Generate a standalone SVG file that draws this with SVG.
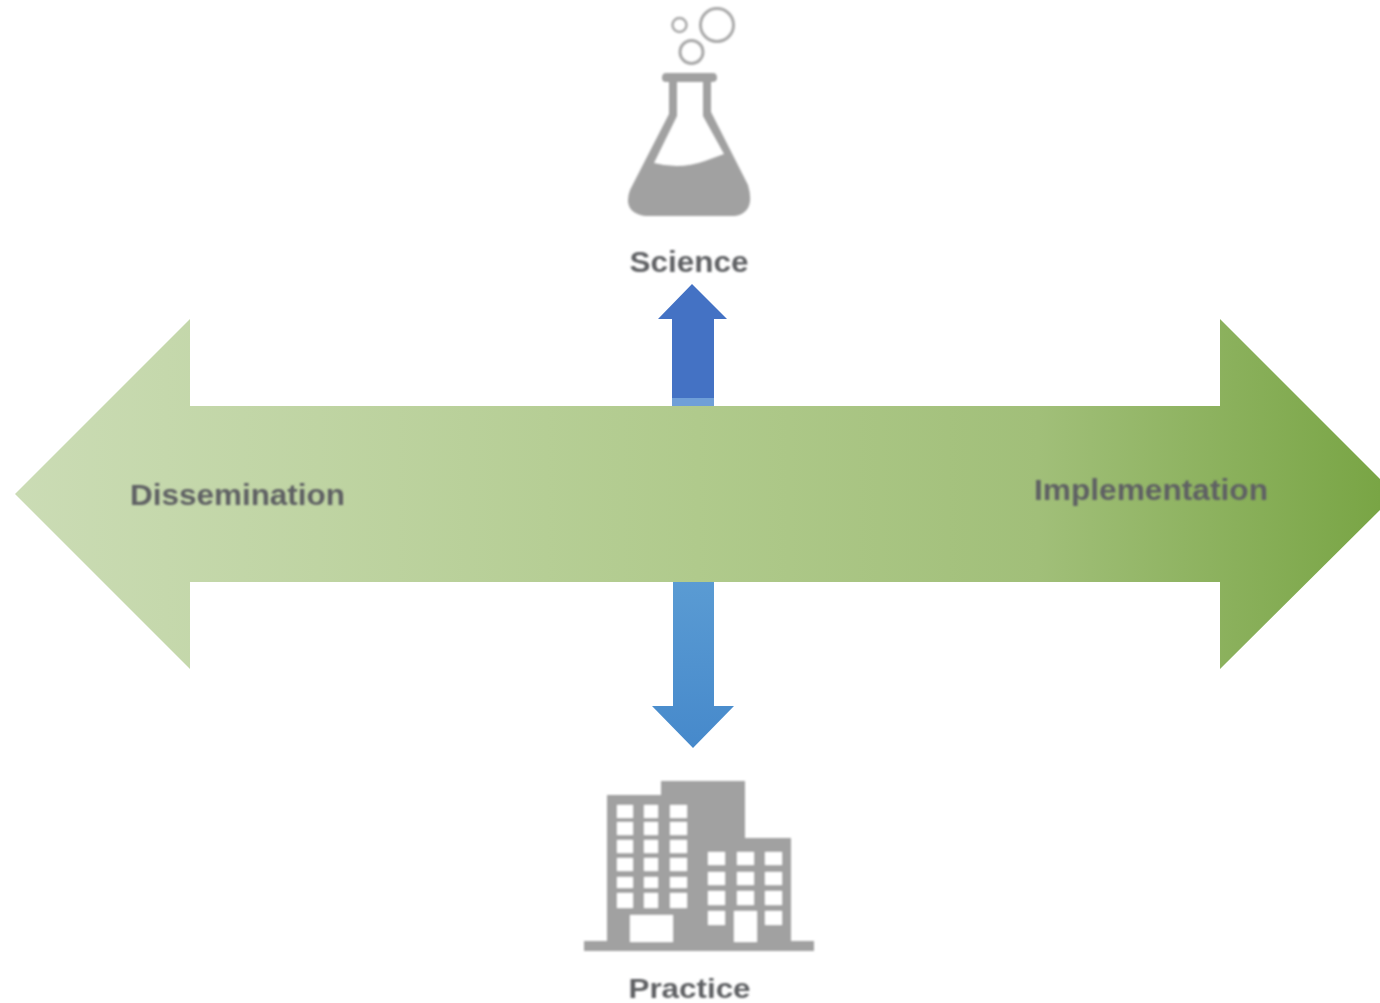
<svg xmlns="http://www.w3.org/2000/svg" width="1380" height="1003" viewBox="0 0 1380 1003">
<style>
.lbl{font-family:"Liberation Sans",Arial,sans-serif;font-weight:700;fill:#5f6163}
.ic{fill:#a1a1a1}
.ring{fill:none;stroke:#a8a8a8}
.win{fill:#fff}
</style>
<defs>
<linearGradient id="g" gradientUnits="userSpaceOnUse" x1="15" y1="0" x2="1380" y2="0">
<stop offset="0" stop-color="#cbdcb5"/>
<stop offset=".5" stop-color="#b0ca8c"/>
<stop offset=".75" stop-color="#a1bf79"/>
<stop offset="1" stop-color="#79a545"/>
</linearGradient>
<linearGradient id="b" gradientUnits="userSpaceOnUse" x1="0" y1="582" x2="0" y2="748">
<stop offset="0" stop-color="#5a9bd3"/>
<stop offset="1" stop-color="#4689cb"/>
</linearGradient>
<filter id="s" x="-5%" y="-5%" width="110%" height="110%"><feGaussianBlur stdDeviation="1"/></filter>
</defs>
<g id="connectors">
<path id="up-arrow" d="M692 284L727 319H714V406H672V319H658Z" fill="#4472c4"/>
<rect x="672" y="398" width="42" height="8" fill="#6f9fd8"/>
<path id="down-arrow" d="M673 582H714V706H734L693 748L652 706H673Z" fill="url(#b)"/>
<path id="main-arrow" d="M15 494L190 319V406H1220V319L1380 479V510L1220 669V582H190V669Z" fill="url(#g)"/>
</g>
<g id="science" filter="url(#s)">
<circle class="ring" cx="717" cy="25" r="16.500" stroke-width="3"/>
<circle class="ring" cx="691.500" cy="52" r="11.500" stroke-width="3"/>
<circle class="ring" cx="679.500" cy="25" r="7" stroke-width="2.500"/>
<path class="ic" fill-rule="evenodd" d="M666 73H713Q717 73 717 78Q717 82 712 82H711V112L748 185Q756 212 735 216H645Q622 212 630 190L669 114V82H666Q662 82 662 78Q662 73 666 73ZM677 82V116L654 163Q680 170 705 161L724 154L703 116V82Z"/>
<text class="lbl" x="689" y="272" font-size="29" text-anchor="middle" textLength="119" lengthAdjust="spacingAndGlyphs">Science</text>
</g>
<g id="practice" filter="url(#s)">
<path class="ic" d="M607 795H661V781H745V838H791V941H814V951H584V941H607Z"/>
<g class="win">
<rect x="617" y="805" width="16" height="13"/><rect x="644" y="805" width="14" height="13"/><rect x="670" y="805" width="17" height="13"/>
<rect x="617" y="822" width="16" height="13"/><rect x="644" y="822" width="14" height="13"/><rect x="670" y="822" width="17" height="13"/>
<rect x="617" y="840" width="16" height="13"/><rect x="644" y="840" width="14" height="13"/><rect x="670" y="840" width="17" height="13"/>
<rect x="617" y="858" width="16" height="13"/><rect x="644" y="858" width="14" height="13"/><rect x="670" y="858" width="17" height="13"/>
<rect x="617" y="877" width="16" height="11"/><rect x="644" y="877" width="14" height="11"/><rect x="670" y="877" width="17" height="11"/>
<rect x="617" y="893" width="16" height="15"/><rect x="644" y="893" width="14" height="15"/><rect x="670" y="893" width="17" height="15"/>
<rect x="708" y="852" width="17" height="13"/><rect x="737" y="852" width="17" height="13"/><rect x="765" y="852" width="17" height="13"/>
<rect x="708" y="872" width="17" height="13"/><rect x="737" y="872" width="17" height="13"/><rect x="765" y="872" width="17" height="13"/>
<rect x="708" y="891" width="17" height="14"/><rect x="737" y="891" width="17" height="14"/><rect x="765" y="891" width="17" height="14"/>
<rect x="708" y="911" width="17" height="14"/><rect x="765" y="911" width="17" height="14"/>
<rect x="630" y="915" width="43" height="27"/><rect x="734" y="911" width="23" height="31"/>
</g>
<text class="lbl" x="689.500" y="998" font-size="27" text-anchor="middle" textLength="122" lengthAdjust="spacingAndGlyphs">Practice</text>
</g>
<g id="labels" filter="url(#s)">
<text class="lbl" x="130" y="505" font-size="29" textLength="215" lengthAdjust="spacingAndGlyphs">Dissemination</text>
<text class="lbl" x="1034" y="500" font-size="29" textLength="234" lengthAdjust="spacingAndGlyphs">Implementation</text>
</g>
</svg>
